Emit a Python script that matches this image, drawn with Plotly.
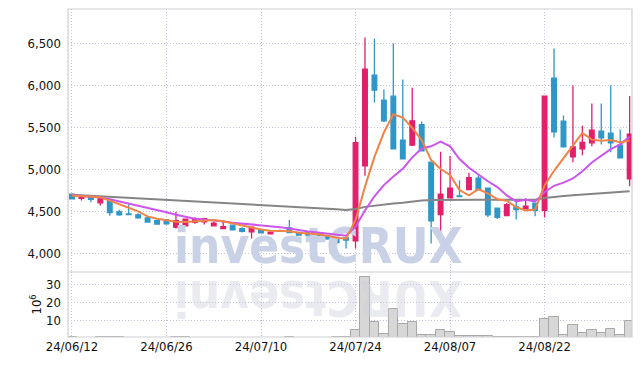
import plotly.graph_objects as go

dates = ["2024-06-12","2024-06-13","2024-06-14","2024-06-17","2024-06-18","2024-06-19","2024-06-20","2024-06-21","2024-06-24","2024-06-25",
         "2024-06-26","2024-06-27","2024-06-28","2024-07-01","2024-07-02","2024-07-03","2024-07-04","2024-07-05","2024-07-08","2024-07-09",
         "2024-07-10","2024-07-11","2024-07-12","2024-07-15","2024-07-16","2024-07-17","2024-07-18","2024-07-19","2024-07-22","2024-07-23",
         "2024-07-24","2024-07-25","2024-07-26","2024-07-29","2024-07-30","2024-07-31","2024-08-01","2024-08-02","2024-08-05","2024-08-06",
         "2024-08-07","2024-08-08","2024-08-09","2024-08-12","2024-08-13","2024-08-14","2024-08-16","2024-08-19","2024-08-20","2024-08-21",
         "2024-08-22","2024-08-23","2024-08-26","2024-08-27","2024-08-28","2024-08-29","2024-08-30","2024-09-02","2024-09-03","2024-09-04"]

opens = [4706,4658,4690,4603,4640,4496,4470,4460,4425,4390,
         4400,4313,4329,4370,4377,4329,4297,4337,4297,4257,
         4281,4234,4273,4305,4250,4250,4234,4210,4178,4186,
         4150,5043,6122,5825,5872,5348,5289,5535,5087,4464,
         4662,4685,4762,4896,4777,4539,4452,4555,4531,4599,
         4515,6087,5575,5150,5245,5317,5456,5432,5289,4888]
highs = [4712,4695,4695,4676,4650,4520,4585,4480,4440,4398,
         4410,4496,4412,4432,4425,4377,4377,4345,4313,4320,
         4290,4258,4285,4400,4255,4255,4240,4215,4185,4190,
         5390,6570,6560,5952,6500,6070,5972,5571,5095,5210,
         5162,4873,4960,4930,4785,4545,4600,4627,4658,4605,
         5880,6440,5642,6000,5520,5785,5785,6000,5476,5876]
lows = [4648,4630,4610,4571,4450,4450,4458,4415,4368,4343,
        4343,4297,4325,4353,4345,4321,4290,4275,4250,4180,
        4240,4230,4255,4245,4212,4210,4170,4165,4115,4060,
        4060,4925,5797,5565,5240,5120,5280,5215,4120,4230,
        4655,4670,4755,4755,4435,4412,4445,4404,4525,4444,
        4428,5380,5265,5087,5170,5277,5297,5206,5130,4801]
closes = [4650,4690,4645,4674,4486,4460,4462,4425,4375,4350,
          4353,4392,4408,4416,4416,4361,4321,4281,4265,4313,
          4246,4254,4265,4250,4218,4218,4198,4174,4130,4160,
          5320,6194,5944,5580,5245,5126,5579,5222,4390,4706,
          4777,4678,4904,4762,4460,4430,4583,4523,4563,4515,
          5872,5448,5270,5269,5321,5468,5376,5317,5138,5420]

ma5 = [4690,4685,4675,4670,4630,4592,4545,4501,4442,4414,
       4393,4379,4376,4384,4397,4399,4384,4359,4329,4308,
       4285,4272,4269,4266,4247,4241,4230,4212,4188,4176,
       4396,4796,5150,5440,5657,5618,5495,5350,5112,5005,
       4935,4755,4691,4765,4716,4647,4628,4552,4512,4523,
       4811,4984,5134,5275,5436,5355,5341,5350,5324,5344]
ma10 = [4694,4688,4680,4668,4645,4620,4595,4570,4545,4522,
        4492,4462,4439,4413,4406,4396,4382,4367,4356,4353,
        4342,4328,4314,4297,4277,4263,4251,4240,4227,4211,
        4319,4513,4681,4814,4916,5007,5145,5250,5276,5331,
        5276,5125,5021,4939,4860,4791,4691,4621,4639,4620,
        4729,4806,4843,4893,4979,5083,5163,5242,5299,5390]
ma60 = [4700,4694,4688,4681,4675,4669,4663,4657,4650,4644,
        4638,4632,4626,4620,4614,4608,4601,4595,4589,4583,
        4577,4571,4565,4559,4553,4546,4540,4533,4526,4518,
        4530,4555,4570,4585,4595,4605,4620,4632,4638,4640,
        4640,4640,4641,4641,4640,4639,4638,4638,4638,4640,
        4660,4675,4685,4693,4700,4708,4716,4724,4732,4741]
volumes = [0.4,0.3,0.3,0.4,0.5,0.4,0.3,0.3,0.3,0.3,
           0.3,0.5,0.4,0.3,0.3,0.3,0.3,0.3,0.3,0.3,
           0.3,0.3,0.2,0.4,0.3,0.3,0.3,0.3,0.4,0.5,
           4.6,33.9,8.9,2.4,16.1,7.9,8.7,1.6,1.6,4.6,
           3.3,1.1,1.0,0.9,1.2,0.8,0.8,0.7,0.7,0.8,
           10.5,11.7,1.6,7.2,2.8,4.4,2.8,5.0,1.6,9.6]

tick_idx = [0, 10, 20, 30, 40, 50]
tick_labels = [dates[i][2:].replace("-", "/") for i in tick_idx]
price_ticks = [4000, 4500, 5000, 5500, 6000, 6500]
vol_ticks = [10, 20, 30]

x = list(range(len(dates)))

RED = "#e21f6a"
BLUE = "#2f97c8"
FONT = "DejaVu Sans Condensed, Liberation Sans Narrow, sans-serif"
GRID = "#c4c4da"
DOTS = "1px,2px"

fig = go.Figure()

# watermark (behind the candles)
fig.add_trace(go.Scatter(x=[26.05], y=[4035], mode="text", text=["investCRUX"],
                         textposition="middle center",
                         textfont=dict(family=FONT, size=49, color="#c9d1e6", weight="bold"),
                         hoverinfo="skip", showlegend=False, xaxis="x", yaxis="y"))

fig.add_trace(go.Candlestick(x=x, open=opens, high=highs, low=lows, close=closes,
                             increasing=dict(line=dict(color=RED, width=1.3), fillcolor=RED),
                             decreasing=dict(line=dict(color=BLUE, width=1.3), fillcolor=BLUE),
                             whiskerwidth=0, showlegend=False, xaxis="x", yaxis="y"))

fig.add_trace(go.Scatter(x=x, y=ma60, mode="lines", line=dict(color="#858585", width=2),
                         showlegend=False, xaxis="x", yaxis="y"))
fig.add_trace(go.Scatter(x=x, y=ma10, mode="lines", line=dict(color="#cc55ee", width=2),
                         showlegend=False, xaxis="x", yaxis="y"))
fig.add_trace(go.Scatter(x=x, y=ma5, mode="lines", line=dict(color="#f08447", width=2),
                         showlegend=False, xaxis="x", yaxis="y"))

fig.add_trace(go.Bar(x=x, y=volumes, marker=dict(color="#d7d7d7", line=dict(color="#a9a9a9", width=1)),
                     showlegend=False, xaxis="x", yaxis="y2"))

split = 65 / 328

# the page body has an 8px default margin, so the figure is 8px smaller
fig.update_layout(
    width=634, height=358,
    margin=dict(l=60, r=10, t=1, b=29, autoexpand=False),
    paper_bgcolor="white", plot_bgcolor="white",
    bargap=0.0, boxgap=0.3,
    showlegend=False,
    xaxis=dict(range=[-0.42, 59.25], anchor="y2", tickvals=tick_idx, ticktext=tick_labels,
               showgrid=True, gridcolor=GRID, griddash=DOTS, gridwidth=1, automargin=False,
               zeroline=False, showline=False, ticks="", rangeslider=dict(visible=False),
               tickfont=dict(family=FONT, size=13, color="#111")),
    yaxis=dict(domain=[split, 1], range=[3780, 6910], tickvals=price_ticks, tickformat=",",
               showgrid=True, gridcolor=GRID, griddash=DOTS, gridwidth=1, automargin=False,
               zeroline=False, showline=False, ticks="", ticklabelstandoff=6,
               tickfont=dict(family=FONT, size=13, color="#111")),
    yaxis2=dict(domain=[0, split], range=[0.6, 36.8], tickvals=vol_ticks,
                showgrid=True, gridcolor=GRID, griddash=DOTS, gridwidth=1, automargin=False,
                zeroline=False, showline=False, ticks="", ticklabelstandoff=6,
                tickfont=dict(family=FONT, size=13, color="#111"),
                title=dict(text="10<sup>6</sup>", font=dict(family=FONT, size=13, color="#111"), standoff=1)),
    shapes=[
        dict(type="rect", xref="paper", yref="paper", x0=0, x1=1, y0=0, y1=1,
             line=dict(color="#cfcfd6", width=1.2)),
        dict(type="line", xref="paper", yref="paper", x0=0, x1=1, y0=split, y1=split,
             line=dict(color="#cfcfd6", width=1.2)),
    ],
    annotations=[
        dict(x=26.05, y=22.5, xref="x", yref="y2", text="XURCtsevni", textangle=180,
             showarrow=False, font=dict(family=FONT, size=49, color="rgba(205,205,222,0.42)", weight="bold"),
             xanchor="center", yanchor="middle"),
    ],
)

fig.write_html("out.html")
